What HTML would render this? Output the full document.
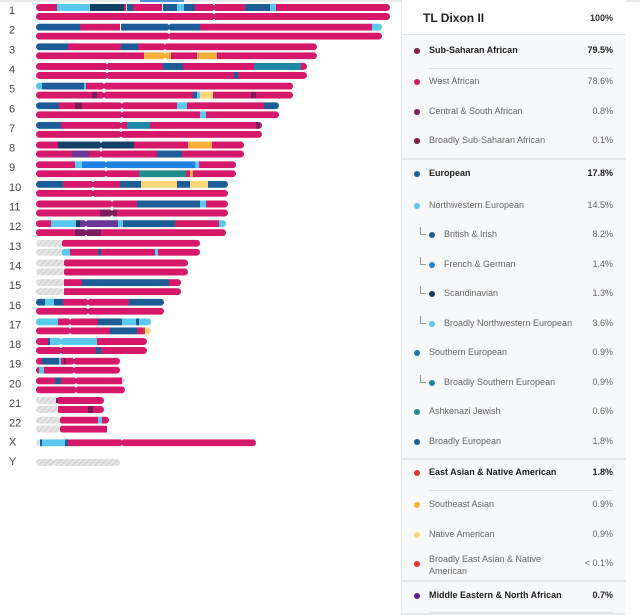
<!DOCTYPE html>
<html><head><meta charset="utf-8">
<style>
body{margin:0;width:640px;height:614px;background:#fff;font-family:"Liberation Sans",sans-serif;overflow:hidden;position:relative}
#chart{position:absolute;left:0;top:0}
#panel{position:absolute;left:401px;top:0;width:224px;height:614px;background:#f7f8fa;border-left:1px solid #e6e8eb}
#hdr{position:absolute;left:0;top:0;width:224px;height:34px;background:#fff;border-bottom:1px solid #e3e5e8}
.row{position:absolute;left:0;width:224px;font-size:9px;color:#666}
.row .dot{position:absolute;width:6px;height:6px;border-radius:50%;top:-3px}
.row .t{position:absolute;top:-6px;white-space:nowrap}
.row .p{position:absolute;right:13px;top:-6px}
.row.b{color:#222;font-weight:bold}
.row .el{position:absolute;left:18px;top:-8px;width:5px;height:7px;border-left:1px solid #999;border-bottom:1px solid #999}
.sep{position:absolute;left:0;width:224px;height:2px;background:#e6e8eb}
.sub{position:absolute;left:27px;width:184px;height:1px;background:#dcdfe3}
</style></head><body>
<div style="position:absolute;left:0;top:0;width:640px;height:2px;background:#e8e9eb"></div>
<div style="position:absolute;left:140px;top:0;width:44px;height:2px;background:#4a90d9"></div>
<svg id="chart" width="400" height="614"></svg>
<div id="panel">
 <div id="hdr">
  <div style="position:absolute;left:21px;top:11px;font-size:12px;font-weight:bold;color:#222">TL Dixon II</div>
  <div style="position:absolute;right:13px;top:13px;font-size:9px;font-weight:bold;color:#333">100%</div>
 </div>
</div>
<script>
const C={W:'#d6186a',LB:'#5bc8ee',NV:'#123f66',BL:'#1c5d97',FG:'#1f80df',TE:'#1b86a6',AJ:'#1e8c8c',PU:'#7b1a5c',ME:'#6a3499',Y:'#fbb03b',NA:'#fbd67a',RD:'#e0352b',H:'url(#hatch)'};
const chromNames=['1','2','3','4','5','6','7','8','9','10','11','12','13','14','15','16','17','18','19','20','21','22','X','Y'];
const chromEnd=[354,346,281,271,257,243,226,208,200,192,192,190,164,152,145,128,115,111,84,89,68,73,220,84];
const centromere=[178,133,129,71,68,86,85,65,70,57,76,50,26,28,27,52,34,25,38,40,21,24,86,18];
const hapTop=[
[[0,21,'W'],[21,54,'LB'],[54,88,'NV'],[88,90,'W'],[91,97,'BL'],[97,126,'W'],[127,141,'BL'],[141,148,'LB'],[148,159,'BL'],[159,209,'W'],[209,234,'BL'],[234,240,'LB'],[240,354,'W']],
[[0,44,'BL'],[44,84,'W'],[85,164,'BL'],[164,336,'W'],[336,346,'LB']],
[[0,32,'BL'],[32,85,'W'],[85,102,'BL'],[102,281,'W']],
[[0,127,'W'],[127,147,'BL'],[147,218,'W'],[218,265,'TE'],[265,271,'W']],
[[0,6,'LB'],[6,48,'BL'],[48,50,'LB'],[50,257,'W']],
[[0,23,'BL'],[23,39,'W'],[39,46,'PU'],[46,141,'W'],[141,151,'LB'],[151,228,'W'],[228,243,'BL']],
[[0,25,'BL'],[25,91,'W'],[91,114,'TE'],[114,220,'W'],[220,224,'PU'],[224,226,'W']],
[[0,22,'W'],[22,98,'NV'],[98,152,'W'],[152,176,'Y'],[176,208,'W']],
[[0,39,'W'],[39,46,'LB'],[46,159,'FG'],[159,163,'LB'],[163,200,'W']],
[[0,27,'BL'],[27,84,'W'],[84,105,'BL'],[105,141,'NA'],[141,154,'BL'],[154,172,'NA'],[172,192,'BL']],
[[0,101,'W'],[101,164,'BL'],[164,170,'LB'],[170,192,'W']],
[[0,15,'W'],[15,40,'LB'],[40,44,'NV'],[44,82,'ME'],[82,87,'LB'],[87,139,'BL'],[139,183,'W'],[183,190,'LB']],
[[0,26,'H'],[26,164,'W']],
[[0,28,'H'],[28,152,'W']],
[[0,28,'H'],[28,46,'W'],[46,133,'BL'],[133,145,'W']],
[[0,9,'BL'],[9,18,'LB'],[18,27,'BL'],[27,93,'W'],[93,128,'BL']],
[[0,22,'LB'],[22,62,'W'],[62,86,'BL'],[86,100,'LB'],[100,103,'BL'],[103,115,'LB']],
[[0,12,'W'],[12,14,'BL'],[14,61,'LB'],[61,111,'W']],
[[0,6,'W'],[6,23,'BL'],[23,25,'LB'],[25,28,'W'],[28,30,'PU'],[30,84,'W']],
[[0,19,'W'],[19,25,'BL'],[25,86,'W'],[86,89,'H']],
[[0,20,'H'],[20,22,'PU'],[22,68,'W']],
[[0,24,'H'],[24,62,'W'],[62,66,'LB'],[66,73,'W']],
[[0,4,'H'],[4,6,'BL'],[6,29,'LB'],[29,32,'BL'],[32,220,'W']],
[[0,84,'H']]];
const hapBot=[
[[0,354,'W']],[[0,346,'W']],
[[0,108,'W'],[108,135,'Y'],[135,161,'W'],[161,181,'Y'],[181,281,'W']],
[[0,198,'W'],[198,202,'BL'],[202,271,'W']],
[[0,56,'W'],[56,61,'PU'],[61,157,'W'],[157,161,'BL'],[161,164,'LB'],[164,177,'NA'],[177,215,'W'],[215,220,'PU'],[220,257,'W']],
[[0,164,'W'],[164,170,'LB'],[170,243,'W']],
[[0,226,'W']],
[[0,36,'W'],[36,53,'ME'],[53,121,'W'],[121,146,'BL'],[146,208,'W']],
[[0,103,'W'],[103,150,'AJ'],[150,154,'W'],[154,157,'Y'],[157,200,'W']],
[[0,192,'W']],
[[0,64,'W'],[64,81,'PU'],[81,192,'W']],
[[0,39,'W'],[39,65,'PU'],[65,190,'W']],
[[0,26,'H'],[26,34,'LB'],[34,62,'W'],[62,65,'BL'],[65,119,'W'],[119,122,'LB'],[122,164,'W']],
[[0,28,'H'],[28,152,'W']],
[[0,28,'H'],[28,145,'W']],
[[0,128,'W']],
[[0,74,'W'],[74,101,'BL'],[101,107,'W'],[107,109,'RD'],[109,115,'NA']],
[[0,60,'W'],[60,65,'BL'],[65,111,'W']],
[[0,3,'W'],[3,8,'LB'],[8,84,'W']],
[[0,89,'W']],
[[0,22,'H'],[22,52,'W'],[52,57,'PU'],[57,68,'W']],
[[0,24,'H'],[24,71,'W']],
null,null];
const X0=36, K=1;
const xs=v=>X0+v*K;
const rowY=i=>4+i*19.65;
const NS='http://www.w3.org/2000/svg';
const svg=document.getElementById('chart');
svg.innerHTML='<defs><pattern id="hatch" width="4" height="4" patternUnits="userSpaceOnUse" patternTransform="rotate(45)"><rect width="4" height="4" fill="#e4e4e4"/><line x1="0" y1="0" x2="0" y2="4" stroke="#c9c9c9" stroke-width="1.5"/></pattern></defs>';
function mk(tag,attrs){const e=document.createElementNS(NS,tag);for(const k in attrs)e.setAttribute(k,attrs[k]);svg.appendChild(e);return e;}
function bar(segs,y,i,end,cen,which){
  const cp=document.createElementNS(NS,'clipPath');cp.setAttribute('id','c'+i+which);
  const r=document.createElementNS(NS,'rect');
  r.setAttribute('x',xs(0));r.setAttribute('y',y);r.setAttribute('width',xs(end)-xs(0));r.setAttribute('height',7);r.setAttribute('rx',3.5);
  cp.appendChild(r);svg.querySelector('defs').appendChild(cp);
  const g=mk('g',{'clip-path':'url(#c'+i+which+')'});
  
  
  segs.forEach(s=>{
    const e=document.createElementNS(NS,'rect');
    e.setAttribute('x',xs(s[0]));e.setAttribute('y',y);e.setAttribute('width',xs(s[1])-xs(s[0]));e.setAttribute('height',7);e.setAttribute('fill',C[s[2]]);
    
    
    g.appendChild(e);
  });
  [y-0.3,y+7.3].forEach(cy=>{
    const n=mk('circle',{cx:xs(cen),cy:cy,r:1.4,fill:'#fff'});
    
    
  });
}
chromNames.forEach((nm,i)=>{
  const y=rowY(i);
  const single=hapBot[i]===null;
  const lb=mk('text',{x:9,y:y+(single?9:10),'font-size':'11','fill':'#444','font-family':'Liberation Sans, sans-serif'});
  lb.textContent=nm;
  
  
  if(single){bar(hapTop[i],y+3,i,chromEnd[i],centromere[i],'single');}
  else{bar(hapTop[i],y,i,chromEnd[i],centromere[i],'top');bar(hapBot[i],y+9,i,chromEnd[i],centromere[i],'bottom');}
});
const legendNames=['Sub-Saharan African','West African','Central & South African','Broadly Sub-Saharan African','European','Northwestern European','British & Irish','French & German','Scandinavian','Broadly Northwestern European','Southern European','Broadly Southern European','Ashkenazi Jewish','Broadly European','East Asian & Native American','Southeast Asian','Native American','Broadly East Asian & Native American','Middle Eastern & North African'];
const legendPct=['79.5%','78.6%','0.8%','0.1%','17.8%','14.5%','8.2%','1.4%','1.3%','3.6%','0.9%','0.9%','0.6%','1.8%','1.8%','0.9%','0.9%','< 0.1%','0.7%'];
const legendCol=['#8a1545','#d6186a','#7b1a5c','#8a1545','#1c5d97','#5bc8ee','#1c5d97','#1f80df','#123f66','#5bc8ee','#1b78a8','#1b86a6','#1e8c8c','#1c5d97','#e0352b','#fbb03b','#fbd67a','#e0352b','#5a1f8a'];
const legendKind=['b','n','n','n','b','n','i','i','i','i','n','i','n','n','b','n','n','n','b'];
const legendY=[51,82,112,141,174,206,235,265,294,324,353,383,412,442,473,505,535,564,596];
const panel=document.getElementById('panel');
legendNames.forEach((nm,i)=>{
  const d=document.createElement('div');
  d.className='row'+(legendKind[i]==='b'?' b':'');
  d.style.top=legendY[i]+'px';
  
  
  const ind=legendKind[i]==='i'?15:0;
  let h='';
  if(ind)h+='<span class="el"></span>';
  h+='<span class="dot" style="left:'+(12+ind)+'px;background:'+legendCol[i]+'"></span>';
  if(nm.startsWith('Broadly East')) h+='<span class="t" style="left:27px;top:-11px;line-height:12px">Broadly East Asian &amp; Native<br>American</span>';
  else h+='<span class="t" style="left:'+(27+ind)+'px">'+nm.replace('&','&amp;')+'</span>';
  h+='<span class="p">'+legendPct[i]+'</span>';
  d.innerHTML=h;
  panel.appendChild(d);
});
[158,458,580,613].forEach(y=>{const s=document.createElement('div');s.className='sep';s.style.top=y+'px';


panel.appendChild(s);});
[68,490,612].forEach(y=>{const s=document.createElement('div');s.className='sub';s.style.top=y+'px';


panel.appendChild(s);});
</script>
</body></html>
